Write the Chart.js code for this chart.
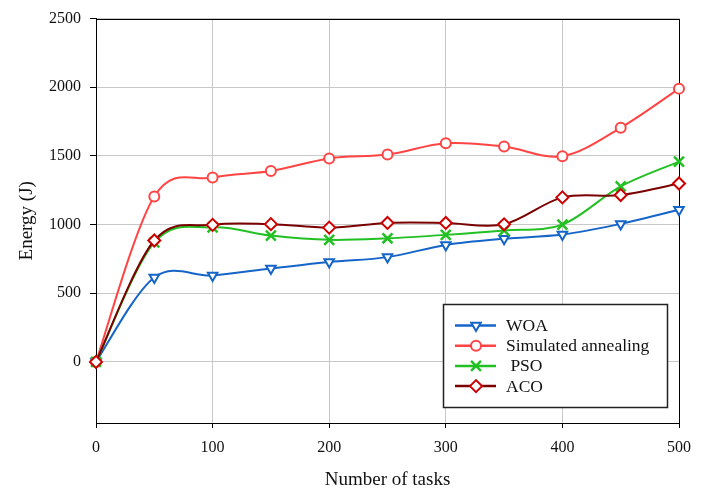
<!DOCTYPE html>
<html>
<head>
<meta charset="utf-8">
<script src="https://cdn.jsdelivr.net/npm/chart.js@4/dist/chart.umd.min.js"></script>
<style>
html,body{margin:0;padding:0;background:#fff;}
#wrap{width:701px;height:491px;}
</style>
</head>
<body>
<div id="wrap"><canvas id="c" width="701" height="491"></canvas></div>
<script>
const tasks = [0, 50, 100, 150, 200, 250, 300, 350, 400, 450, 500];
const woa = [0, 615, 630, 680, 728, 763, 852, 897, 927, 1005, 1108];
const simulatedAnnealing = [0, 1205, 1342, 1390, 1482, 1510, 1592, 1568, 1498, 1705, 1990];
const pso = [0, 870, 980, 920, 889, 900, 925, 957, 1000, 1278, 1458];
const aco = [0, 884, 998, 1003, 978, 1012, 1012, 1002, 1198, 1215, 1299];
const yTicks = [0, 500, 1000, 1500, 2000, 2500];
const xTicks = [0, 100, 200, 300, 400, 500];
const seriesNames = ['WOA', 'Simulated annealing', ' PSO', 'ACO'];

const serif = "'Liberation Serif', 'Times New Roman', serif";
const pts = arr => arr.map((v, i) => ({x: tasks[i], y: v}));

const datasets = [
  {label: seriesNames[0], data: pts(woa), borderColor: '#1565C8', pointBorderColor: '#1565C8',
   pointBackgroundColor: '#fff', pointStyle: 'triangle', pointRotation: 180, pointRadius: 5.5, order: 3},
  {label: seriesNames[1], data: pts(simulatedAnnealing), borderColor: '#FF4444', pointBorderColor: '#FF4444',
   pointBackgroundColor: '#fff', pointStyle: 'circle', pointRadius: 5, order: 2},
  {label: seriesNames[2], data: pts(pso), borderColor: '#22C022', pointBorderColor: '#22C022',
   pointBackgroundColor: '#22C022', pointStyle: 'crossRot', pointRadius: 7, pointBorderWidth: 2.5, order: 1},
  {label: seriesNames[3], data: pts(aco), borderColor: '#7A0000', pointBorderColor: '#CC0000',
   pointBackgroundColor: '#fff', pointStyle: 'rectRot', pointRadius: 6, order: 0}
].map(d => Object.assign({borderWidth: 2, pointBorderWidth: 2, tension: 0.4, fill: false, clip: false}, d));

const bgPlugin = {
  id: 'bg',
  beforeDraw(chart) {
    const ctx = chart.ctx;
    ctx.save();
    ctx.fillStyle = '#fff';
    ctx.fillRect(0, 0, chart.width, chart.height);
    ctx.restore();
  }
};

// Spreadsheet-style smoothing: control points at +-(next - prev)/6 of the library-computed pixel positions
const smoothPlugin = {
  id: 'sheetSmooth',
  beforeDatasetsDraw(chart) {
    chart.data.datasets.forEach((ds, di) => {
      const els = chart.getDatasetMeta(di).data;
      const n = els.length;
      for (let i = 0; i < n; i++) {
        const p = els[i];
        const prev = els[Math.max(0, i - 1)];
        const next = els[Math.min(n - 1, i + 1)];
        const dx = (next.x - prev.x) / 6, dy = (next.y - prev.y) / 6;
        p.cp1x = p.x - dx; p.cp1y = p.y - dy;
        p.cp2x = p.x + dx; p.cp2y = p.y + dy;
      }
    });
  }
};

const boxPlugin = {
  id: 'box',
  beforeDatasetsDraw(chart) {
    const a = chart.chartArea, ctx = chart.ctx;
    ctx.save();
    ctx.strokeStyle = '#000';
    ctx.lineWidth = 1;
    ctx.strokeRect(Math.round(a.left) + 0.5, Math.round(a.top) + 0.5,
      Math.round(a.right - a.left), Math.round(a.bottom - a.top));
    ctx.restore();
  }
};

const legendPlugin = {
  id: 'boxLegend',
  afterDatasetsDraw(chart) {
    const ctx = chart.ctx;
    const x0 = 443.5, y0 = 304.5, w = 224, h = 103;
    ctx.save();
    ctx.fillStyle = '#fff';
    ctx.fillRect(x0, y0, w, h);
    ctx.strokeStyle = '#222';
    ctx.lineWidth = 1.5;
    ctx.strokeRect(x0, y0, w, h);
    ctx.font = '17.5px ' + serif;
    ctx.textBaseline = 'middle';
    chart.data.datasets.forEach((ds, i) => {
      const y = 325.5 + i * 20.2;
      ctx.strokeStyle = ds.borderColor;
      ctx.lineWidth = 2.5;
      ctx.beginPath();
      ctx.moveTo(455, y);
      ctx.lineTo(496, y);
      ctx.stroke();
      ctx.strokeStyle = ds.pointBorderColor;
      ctx.fillStyle = ds.pointBackgroundColor;
      ctx.lineWidth = ds.pointBorderWidth || 2;
      Chart.helpers.drawPoint(ctx, {pointStyle: ds.pointStyle, rotation: ds.pointRotation || 0,
        radius: ds.pointRadius, borderWidth: ds.pointBorderWidth || 2}, 476, y);
      ctx.fillStyle = '#111';
      ctx.fillText(ds.label, 506, y + 1);
    });
    ctx.restore();
  }
};

new Chart(document.getElementById('c'), {
  type: 'line',
  data: {datasets},
  options: {
    responsive: false,
    animation: false,
    devicePixelRatio: 1,
    layout: {padding: {left: 0, right: 22, top: 17, bottom: 0}},
    plugins: {legend: {display: false}, tooltip: {enabled: false}},
    scales: {
      x: {
        type: 'linear', min: 0, max: 500,
        afterBuildTicks: s => { s.ticks = xTicks.map(v => ({value: v})); },
        afterFit: s => { s.height = 68; },
        grid: {color: '#C8C8C8', lineWidth: 1, tickLength: 5, tickColor: '#000'},
        border: {display: true, color: '#000', width: 1},
        ticks: {font: {family: serif, size: 16}, color: '#111', padding: 10, maxRotation: 0,
          callback: v => String(v)},
        title: {display: true, text: 'Number of tasks', font: {family: serif, size: 19}, color: '#111',
          padding: {top: 0, bottom: 0}}
      },
      y: {
        type: 'linear', min: -445, max: 2500,
        afterBuildTicks: s => { s.ticks = yTicks.map(v => ({value: v})); },
        afterFit: s => { s.width = 96; },
        grid: {color: '#C8C8C8', lineWidth: 1, tickLength: 6, tickColor: '#000'},
        border: {display: true, color: '#000', width: 1},
        ticks: {font: {family: serif, size: 16}, color: '#111', padding: 9, callback: v => String(v)},
        title: {display: true, text: 'Energy (J)', font: {family: serif, size: 19}, color: '#111',
          padding: {top: 16, bottom: 0}}
      }
    }
  },
  plugins: [bgPlugin, smoothPlugin, boxPlugin, legendPlugin]
});
</script>
</body>
</html>
